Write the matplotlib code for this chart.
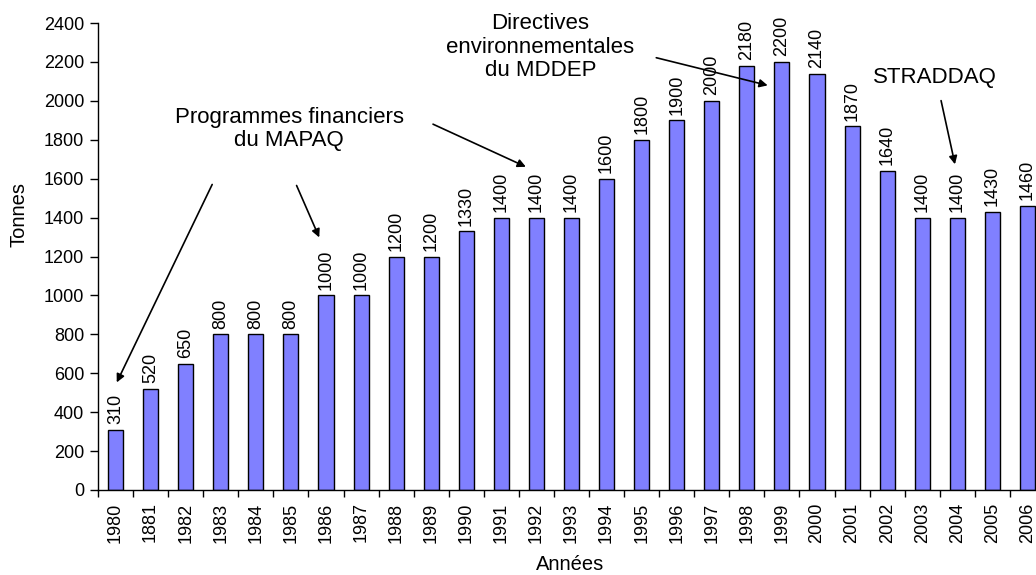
import matplotlib
matplotlib.use("Agg")
import matplotlib.pyplot as plt
import numpy as np

plt.rcParams['font.family'] = ['Liberation Sans', 'DejaVu Sans']

years = ["1980", "1881", "1982", "1983", "1984", "1985", "1986", "1987", "1988", "1989",
         "1990", "1991", "1992", "1993", "1994", "1995", "1996", "1997", "1998", "1999",
         "2000", "2001", "2002", "2003", "2004", "2005", "2006"]
tonnes = [310, 520, 650, 800, 800, 800, 1000, 1000, 1200, 1200,
          1330, 1400, 1400, 1400, 1600, 1800, 1900, 2000, 2180, 2200,
          2140, 1870, 1640, 1400, 1400, 1430, 1460]

fig = plt.figure(figsize=(10.36, 5.75), dpi=100)
ax = fig.add_axes([98/1036, 85/575, 947/1036, 467/575])

x = np.arange(len(years))
ax.bar(x, tonnes, width=0.43, color='#8080FF', edgecolor='black', linewidth=1.0, zorder=2)

for xi, v in zip(x, tonnes):
    ax.annotate(str(v), (xi, v), xytext=(0, 4), textcoords='offset points',
                rotation=90, ha='center', va='bottom', fontsize=13)

ax.set_xlim(-0.5, len(years) - 0.5)
ax.set_ylim(0, 2400)
ax.set_yticks(np.arange(0, 2401, 200))
ax.tick_params(axis='y', labelsize=13, direction='out', length=6, width=1, pad=4)
ax.set_xticks(x)
ax.set_xticklabels(years, rotation=90, fontsize=13)
ax.tick_params(axis='x', which='major', length=0, pad=9)
ax.set_xticks(np.arange(-0.5, len(years), 1), minor=True)
ax.tick_params(axis='x', which='minor', length=5, width=1, direction='out')

for s in ['top', 'right']:
    ax.spines[s].set_visible(False)
ax.spines['left'].set_linewidth(1)
ax.spines['bottom'].set_linewidth(1)

ax.set_ylabel("Tonnes", fontsize=14.5)
ax.set_xlabel("Années", fontsize=14.5)
ax.yaxis.set_label_coords(-0.0835, 0.59)
ax.xaxis.set_label_coords(0.498, -0.16)
ax.xaxis.label.set_va('center')
ax.yaxis.label.set_va('center')

arrow = dict(arrowstyle='-|>', color='black', lw=1.2, mutation_scale=12)
ax.text(4.95, 1855, "Programmes financiers\ndu MAPAQ", ha='center', va='center', fontsize=16, linespacing=1.15)
ax.annotate("", xy=(0.0, 540), xytext=(2.79, 1583), arrowprops=arrow)
ax.annotate("", xy=(5.84, 1285), xytext=(5.13, 1578), arrowprops=arrow)
ax.annotate("", xy=(11.77, 1655), xytext=(8.98, 1886), arrowprops=arrow)

ax.text(12.11, 2275, "Directives\nenvironnementales\ndu MDDEP", ha='center', va='center', fontsize=16, linespacing=1.15)
ax.annotate("", xy=(18.67, 2076), xytext=(15.34, 2225), arrowprops=arrow)

ax.text(23.37, 2122, "STRADDAQ", ha='center', va='center', fontsize=16)
ax.annotate("", xy=(23.95, 1660), xytext=(23.52, 2015), arrowprops=arrow)

fig.savefig("out.png", dpi=100)
